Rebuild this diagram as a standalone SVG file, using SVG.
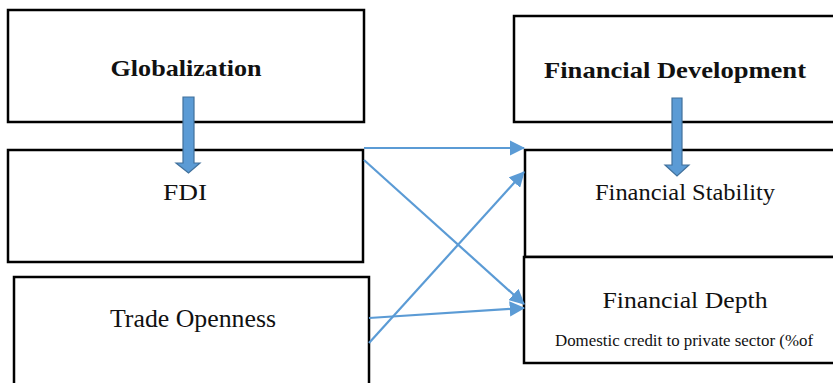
<svg xmlns="http://www.w3.org/2000/svg" width="833" height="383" viewBox="0 0 833 383">
<style>
.box{fill:#fff;stroke:#000;stroke-width:2.5}
.t{font-family:'Liberation Serif','Times New Roman',serif;fill:#111}
.b{font-weight:bold}
.con{stroke:#5B9BD5;stroke-width:2.2;fill:none}
.blk{fill:#5B9BD5;stroke:#41719C;stroke-width:1.2}
</style>
<defs>
<marker id="ah" markerWidth="7" markerHeight="7" refX="6.5" refY="3.5" orient="auto" markerUnits="strokeWidth">
<path d="M0,0 L7,3.5 L0,7 Z" fill="#5B9BD5"/>
</marker>
</defs>
<g id="globalization"><rect class="box" x="8" y="10" width="356" height="112"/><text class="t b" x="186" y="76" font-size="23" text-anchor="middle" textLength="151" lengthAdjust="spacingAndGlyphs">Globalization</text></g>
<g id="fdi"><rect class="box" x="8" y="150" width="355" height="112"/><text class="t" x="185" y="200" font-size="23" text-anchor="middle" textLength="44" lengthAdjust="spacingAndGlyphs">FDI</text></g>
<g id="trade"><rect class="box" x="14" y="277" width="355" height="120"/><text class="t" x="193" y="327" font-size="25" text-anchor="middle" textLength="166" lengthAdjust="spacingAndGlyphs">Trade Openness</text></g>
<g id="findev"><rect class="box" x="514" y="16" width="330" height="106"/><text class="t b" x="675" y="78" font-size="23" text-anchor="middle" textLength="262" lengthAdjust="spacingAndGlyphs">Financial Development</text></g>
<g id="finstab"><rect class="box" x="525" y="150" width="320" height="107"/><text class="t" x="685" y="200" font-size="24" text-anchor="middle" textLength="180" lengthAdjust="spacingAndGlyphs">Financial Stability</text></g>
<g id="findepth"><rect class="box" x="524" y="257" width="320" height="106"/><text class="t" x="685" y="308" font-size="24" text-anchor="middle" textLength="165" lengthAdjust="spacingAndGlyphs">Financial Depth</text><text class="t" x="684" y="346" font-size="16" text-anchor="middle" textLength="258" lengthAdjust="spacingAndGlyphs">Domestic credit to private sector (%of</text></g>
<g id="connectors">
<path class="blk" d="M183,97 H194 V163 H200 L188.5,173 L176,163 H183 Z"/>
<path class="blk" d="M672,98 H682 V165 H689 L677,176 L665,165 H672 Z"/>
<line class="con" x1="364" y1="148" x2="524" y2="148" marker-end="url(#ah)"/>
<line class="con" x1="364" y1="160" x2="524" y2="304" marker-end="url(#ah)"/>
<line class="con" x1="369" y1="343" x2="524" y2="172" marker-end="url(#ah)"/>
<line class="con" x1="369" y1="318" x2="524" y2="308" marker-end="url(#ah)"/>
</g>
</svg>
